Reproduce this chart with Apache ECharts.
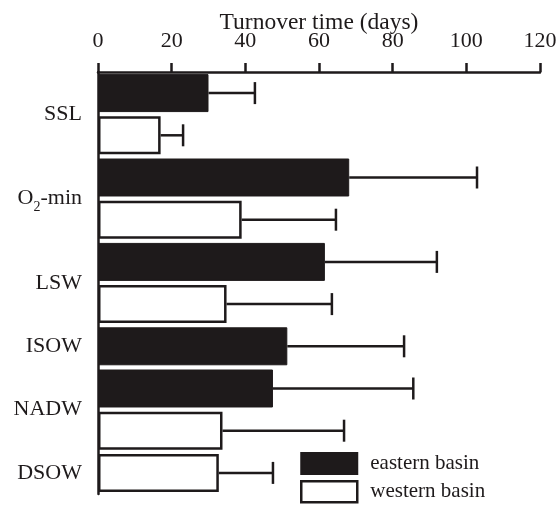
<!DOCTYPE html>
<html><head><meta charset="utf-8">
<script src="https://cdn.jsdelivr.net/npm/echarts@6/dist/echarts.min.js"></script>
<style>html,body{margin:0;padding:0;background:#fff}#c{width:556px;height:508px}</style>
</head><body><div id="c"></div>
<script>
const categories = ['SSL', 'O2-min', 'LSW', 'ISOW', 'NADW', 'DSOW'];
const eastern    = [30.0, 68.2, 61.6, 51.4, 47.5, null];
const easternErr = [42.6, 102.9, 92.0, 83.1, 85.6, null];
const western    = [17.0, 39.0, 34.9, null, 33.8, 32.8];
const westernErr = [23.1, 64.6, 63.5, null, 66.8, 47.5];
const xTicks = [0, 20, 40, 60, 80, 100, 120];

const FONT = 'Liberation Serif';
const BLACK = '#1e1a1b';

// build bar slots: one slot per existing bar
const slots = [], eData = [], wData = [], errData = [], centers = {};
categories.forEach((c, i) => {
  const idx = [];
  if (eastern[i] != null) {
    const s = slots.length; slots.push(c + '-e'); idx.push(s);
    eData.push(eastern[i]); wData.push(null);
    errData.push([s, eastern[i], easternErr[i]]);
  }
  if (western[i] != null) {
    const s = slots.length; slots.push(c + '-w'); idx.push(s);
    eData.push(null); wData.push(western[i]);
    errData.push([s, western[i], westernErr[i]]);
  }
  centers[c] = idx.reduce((a, b) => a + b, 0) / idx.length;
});
const n = slots.length;

const chart = echarts.init(document.getElementById('c'), null, {renderer: 'canvas'});
chart.setOption({
  animation: false,
  backgroundColor: '#fff',
  grid: {left: 98, right: 16, top: 72, bottom: 14, containLabel: false, outerBoundsMode: 'none'},
  xAxis: {
    type: 'value', position: 'top', min: xTicks[0], max: xTicks[xTicks.length - 1], interval: 20,
    name: 'Turnover time (days)', nameLocation: 'middle', nameGap: 37, nameMoveOverlap: false,
    nameTextStyle: {fontFamily: FONT, fontSize: 23.5, color: BLACK},
    axisLine: {show: true, onZero: false, lineStyle: {color: BLACK, width: 2.5}},
    axisTick: {show: true, inside: false, length: 9, lineStyle: {color: BLACK, width: 2.5}},
    axisLabel: {fontFamily: FONT, fontSize: 22, color: BLACK, margin: 20},
    splitLine: {show: false}
  },
  yAxis: [{
    type: 'category', data: slots, inverse: true,
    axisLine: {show: true, onZero: false, lineStyle: {color: BLACK, width: 2.5}},
    axisTick: {show: false}, axisLabel: {show: false}
  }, {
    type: 'value', inverse: true, min: -0.5, max: n - 0.5, interval: 0.5, position: 'left',
    axisLine: {show: false}, axisTick: {show: false}, splitLine: {show: false},
    axisLabel: {
      margin: 16, fontFamily: FONT, fontSize: 22, color: BLACK,
      formatter: v => {
        for (const c of categories) {
          if (Math.abs(centers[c] - v) < 1e-6) {
            return c === 'O2-min' ? '{n|O}{s|2}{n|-min}' : c;
          }
        }
        return '';
      },
      rich: {
        n: {fontFamily: FONT, fontSize: 22, color: BLACK},
        s: {fontFamily: FONT, fontSize: 14, color: BLACK, verticalAlign: 'bottom', padding: [18, 0, 0, 0]}
      }
    }
  }],
  legend: {
    orient: 'vertical', left: 300, top: 452, padding: 0, itemWidth: 56, itemHeight: 21, itemGap: 5,
    icon: 'rect',
    textStyle: {fontFamily: FONT, fontSize: 21, color: BLACK, padding: [0, 0, 0, 8]},
    data: [
      {name: 'eastern basin'},
      {name: 'western basin', itemStyle: {borderWidth: 2.5, borderColor: BLACK, color: '#fff'}}
    ]
  },
  series: [{
    name: 'eastern basin', type: 'bar', yAxisIndex: 0, data: eData,
    barWidth: '90%', barGap: '-100%',
    itemStyle: {color: BLACK, borderColor: BLACK, borderWidth: 1}
  }, {
    name: 'western basin', type: 'bar', yAxisIndex: 0, data: wData,
    barWidth: '90%', barGap: '-100%',
    itemStyle: {color: '#fff', borderColor: BLACK, borderWidth: 2.5}
  }, {
    type: 'custom', yAxisIndex: 0, data: errData,
    encode: {x: [1, 2], y: 0},
    renderItem: (params, api) => {
      const y = api.value(0);
      const a = api.coord([api.value(1), y]);
      const b = api.coord([api.value(2), y]);
      const st = {stroke: BLACK, lineWidth: 2.5};
      return {type: 'group', children: [
        {type: 'line', shape: {x1: a[0], y1: a[1], x2: b[0], y2: b[1]}, style: st},
        {type: 'line', shape: {x1: b[0], y1: b[1] - 11, x2: b[0], y2: b[1] + 11}, style: st}
      ]};
    },
    z: 1
  }]
});
</script></body></html>
